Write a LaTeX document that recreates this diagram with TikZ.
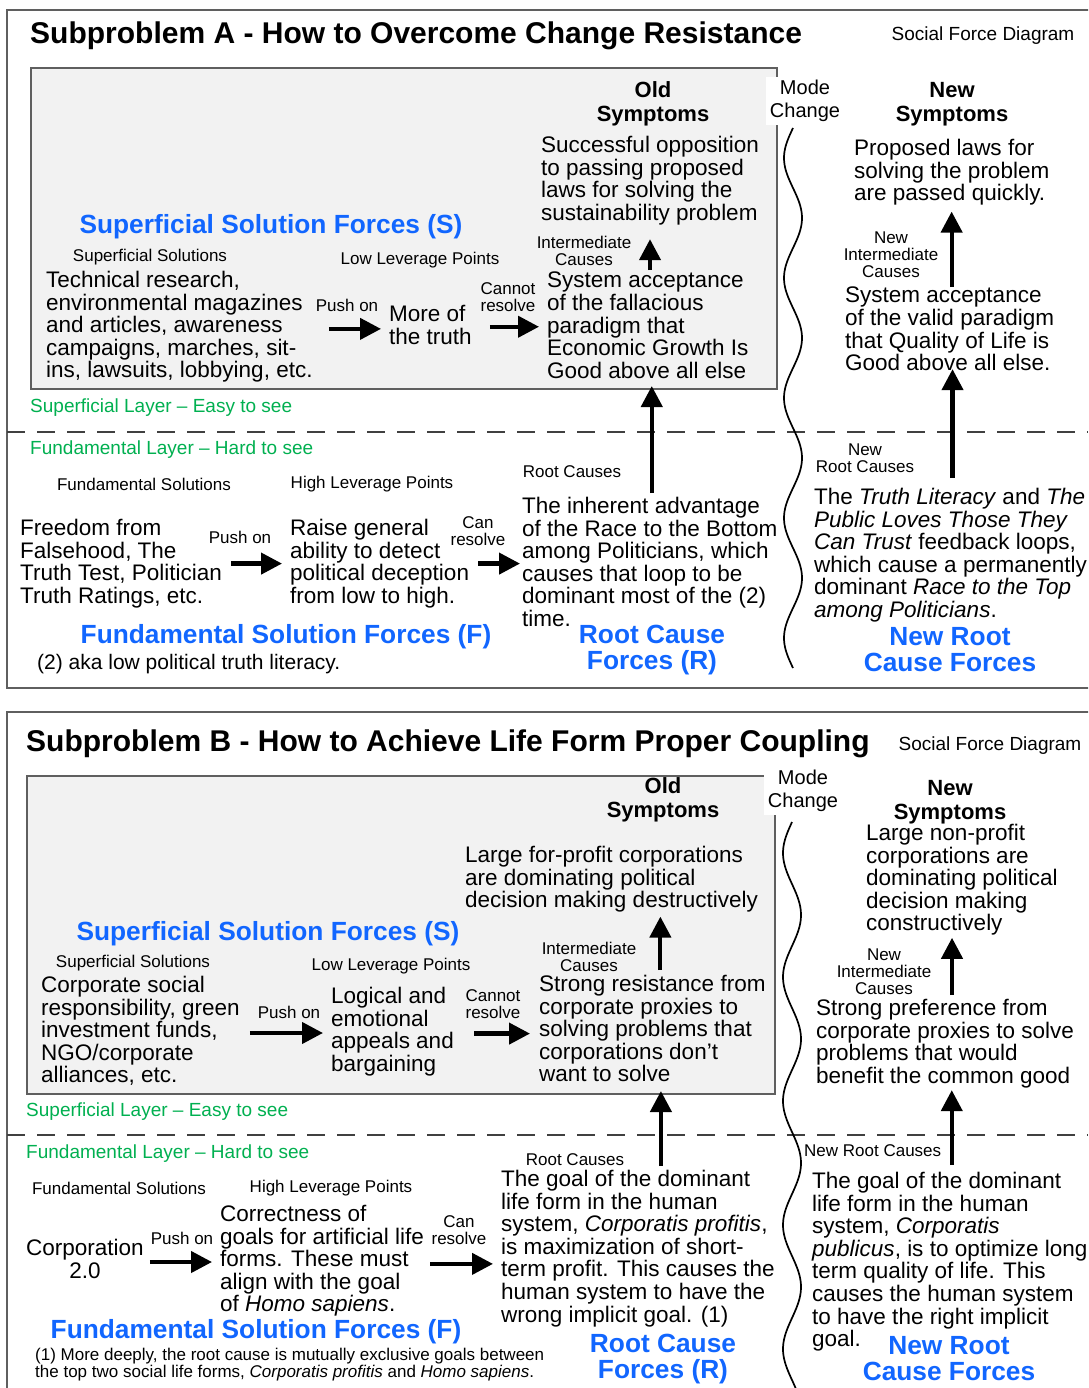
\documentclass[tikz,border=0pt]{standalone}
\usepackage{fontspec}
\setmainfont{Liberation Sans}
\usetikzlibrary{arrows.meta}
\definecolor{fblue}{RGB}{17,102,255}
\definecolor{fgreen}{RGB}{0,176,80}
\definecolor{boxgray}{RGB}{242,242,242}
\definecolor{edgegray}{RGB}{95,95,95}
\tikzset{
  body/.style={font=\fontsize{22.5}{22.6}\selectfont, inner sep=0pt, align=left, anchor=north west},
  bodyc/.style={font=\fontsize{22.5}{22.6}\selectfont, inner sep=0pt, align=center},
  small/.style={font=\fontsize{17}{17}\selectfont, inner sep=0pt, align=center},
  smallw/.style={font=\fontsize{17}{17}\selectfont, inner sep=0pt, anchor=west},
  forcelbl/.style={font=\fontsize{26.3}{26}\selectfont\bfseries, text=fblue, inner sep=0pt, align=center},
  layerlbl/.style={font=\fontsize{19}{19}\selectfont, text=fgreen, inner sep=0pt, anchor=west},
  titlelbl/.style={font=\fontsize{30}{30}\selectfont\bfseries, inner sep=0pt, anchor=west},
  sfdlbl/.style={font=\fontsize{19}{19}\selectfont, inner sep=0pt},
  symlbl/.style={font=\fontsize{22}{24}\selectfont\bfseries, inner sep=0pt, align=center},
  modelbl/.style={font=\fontsize{20}{23}\selectfont, fill=white, inner xsep=4pt, inner ysep=3pt, align=center},
  notelbl/.style={inner sep=0pt, anchor=west, align=left},
  graybox/.style={draw=edgegray, line width=2pt, fill=boxgray, anchor=north west, inner sep=0pt},
  framebox/.style={draw=edgegray, line width=1.8pt},
  dashline/.style={draw=black!75, line width=1.5pt, dash pattern=on 18pt off 12pt},
  bigarrow/.style={-{Triangle[width=21pt,length=21pt]}, line width=4.2pt},
  wavy/.style={line width=1.7pt}
}
\begin{document}
\begin{tikzpicture}[x=1pt,y=-1pt]
\useasboundingbox (0,0) rectangle (1088,1388);
\clip (0,0) rectangle (1088,1388);
\fill[white] (0,0) rectangle (1088,1388);

% ================= Subproblem A =================
\draw[framebox] (7,10) rectangle (1110,688);
\node[graybox, minimum width=746pt, minimum height=321pt] (boxA) at (30,67) {};
\node[titlelbl] (tA) at (30,36) {Subproblem A - How to Overcome Change Resistance};
\node[sfdlbl] (sfdA) at (983,36) {Social Force Diagram};

\node[symlbl] (oldA) at (653,104) {Old\\Symptoms};
\node[modelbl] (modeA) at (805,101) {Mode\\Change};
\node[symlbl] (newA) at (952,104) {New\\Symptoms};

\node[body] (osA) at (541,136) {Successful opposition\\to passing proposed\\laws for solving the\\sustainability problem};
\node[small] (icA) at (584,251) {Intermediate\\Causes};
\node[body] (sysA) at (547,272) {System acceptance\\of the fallacious\\paradigm that\\Economic Growth Is\\Good above all else};
\node[forcelbl] (ssfA) at (271,227) {Superficial Solution Forces (S)};
\node[small] (ssA) at (150,257) {Superficial Solutions};
\node[small] (llA) at (420,260) {Low Leverage Points};
\node[body] (techA) at (46,271) {Technical research,\\environmental magazines\\and articles, awareness\\campaigns, marches, sit-\\ins, lawsuits, lobbying, etc.};
\node[small] (pushA) at (347,305) {Push on};
\node[body] (truthA) at (389,305) {More of\\the truth};
\node[small] (cantA) at (508,297) {Cannot\\resolve};

\node[layerlbl] (slA) at (30,408) {Superficial Layer – Easy to see};
\draw[dashline] (7,432) -- (1088,432);
\node[layerlbl] (flA) at (30,450) {Fundamental Layer – Hard to see};
\node[small] (fsA) at (144,484) {Fundamental Solutions};
\node[small] (hlA) at (372,484) {High Leverage Points};
\node[small] (rcA) at (572,472) {Root Causes};
\node[body] (freeA) at (20,519) {Freedom from\\Falsehood, The\\Truth Test, Politician\\Truth Ratings, etc.};
\node[small] (push2A) at (240,537) {Push on};
\node[body] (raiseA) at (290,519) {Raise general\\ability to detect\\political deception\\from low to high.};
\node[small] (canA) at (478,531) {Can\\resolve};
\node[body] (rootA) at (522,497) {The inherent advantage\\of the Race to the Bottom\\among Politicians, which\\causes that loop to be\\dominant most of the (2)\\time.};
\node[forcelbl] (fsfA) at (286,637) {Fundamental Solution Forces (F)};
\node[forcelbl] (rcfA) at (652,650) {Root Cause\\Forces (R)};
\node[notelbl, font=\fontsize{21}{21}\selectfont] (noteA) at (37,664) {(2) aka low political truth literacy.};

\node[body] (npropA) at (854,139) {Proposed laws for\\solving the problem\\are passed quickly.};
\node[small] (nicA) at (891,255) {New\\Intermediate\\Causes};
\node[body] (nsysA) at (845,287) {System acceptance\\of the valid paradigm\\that Quality of Life is\\Good above all else.};
\node[small] (nrcA) at (865,458) {New\\Root Causes};
\node[body] (nrootA) at (814,488) {The \textit{Truth Literacy} and \textit{The}\\\textit{Public Loves Those They}\\\textit{Can Trust} feedback loops,\\which cause a permanently\\dominant \textit{Race to the Top}\\\textit{among Politicians}.};
\node[forcelbl] (nrcfA) at (950,650) {New Root\\Cause Forces};

% arrows A
\draw[bigarrow, shorten >=8pt] ([xshift=16pt,yshift=-2pt]techA.east) -- ([yshift=-2pt]techA.east -| truthA.west);
\draw[bigarrow, shorten >=8pt] ([xshift=18pt,yshift=-2pt]truthA.east) -- ([yshift=-2pt]truthA.east -| sysA.west);
\draw[bigarrow, shorten >=14pt] ([yshift=2pt]sysA.north -| osA.south) -- (osA.south);
\draw[bigarrow] ([xshift=2pt,yshift=4pt]rootA.north) -- ([xshift=2pt,yshift=4pt]rootA.north |- boxA.south);
\draw[bigarrow, shorten >=8pt] ([xshift=9pt]freeA.east) -- (freeA.east -| raiseA.west);
\draw[bigarrow, shorten >=2pt] ([xshift=9pt]raiseA.east) -- (raiseA.east -| rootA.west);
\draw[bigarrow, shorten >=6pt] ([xshift=2pt]nsysA.north) -- ([xshift=2pt]nsysA.north |- npropA.south);
\draw[bigarrow, shorten >=8pt] ([xshift=2pt,yshift=10pt]nrootA.north) -- ([xshift=2pt,yshift=10pt]nrootA.north |- nsysA.south);

% mode-change wave A
\draw[wavy] plot[domain=0:540, samples=240, smooth] ({793-9*sin(\x*3)}, {128+\x});

% ================= Subproblem B =================
\draw[framebox] (7,712) rectangle (1110,1420);
\node[graybox, minimum width=748pt, minimum height=318pt] (boxB) at (26,775) {};
\node[titlelbl] (tB) at (26,744) {Subproblem B - How to Achieve Life Form Proper Coupling};
\node[sfdlbl] (sfdB) at (990,746) {Social Force Diagram};

\node[symlbl] (oldB) at (663,800) {Old\\Symptoms};
\node[modelbl] (modeB) at (803,791) {Mode\\Change};
\node[symlbl] (newB) at (950,802) {New\\Symptoms};

\node[body] (osB) at (465,846) {Large for-profit corporations\\are dominating political\\decision making destructively};
\node[forcelbl] (ssfB) at (268,934) {Superficial Solution Forces (S)};
\node[small] (icB) at (589,957) {Intermediate\\Causes};
\node[small] (ssB) at (133,963) {Superficial Solutions};
\node[small] (llB) at (391,966) {Low Leverage Points};
\node[body] (corpB) at (41,976) {Corporate social\\responsibility, green\\investment funds,\\NGO/corporate\\alliances, etc.};
\node[small] (pushB) at (289,1012) {Push on};
\node[body] (logicB) at (331,987) {Logical and\\emotional\\appeals and\\bargaining};
\node[small] (cantB) at (493,1004) {Cannot\\resolve};
\node[body] (sysB) at (539,975) {Strong resistance from\\corporate proxies to\\solving problems that\\corporations don’t\\want to solve};

\node[layerlbl] (slB) at (26,1112) {Superficial Layer – Easy to see};
\draw[dashline] (7,1135) -- (1088,1135);
\node[layerlbl] (flB) at (26,1154) {Fundamental Layer – Hard to see};
\node[small] (fsB) at (119,1188) {Fundamental Solutions};
\node[small] (hlB) at (331,1188) {High Leverage Points};
\node[small] (rcB) at (575,1160) {Root Causes};
\node[bodyc] (corp2B) at (85,1259) {Corporation\\2.0};
\node[small] (push3B) at (182,1238) {Push on};
\node[body] (goalsB) at (220,1205) {Correctness of\\goals for artificial life\\forms. These must\\align with the goal\\of \textit{Homo sapiens}.};
\node[small] (can2B) at (459,1230) {Can\\resolve};
\node[body] (rootB) at (501,1170) {The goal of the dominant\\life form in the human\\system, \textit{Corporatis profitis},\\is maximization of short-\\term profit. This causes the\\human system to have the\\wrong implicit goal. (1)};
\node[forcelbl] (fsfB) at (256,1332) {Fundamental Solution Forces (F)};
\node[notelbl, font=\fontsize{17}{17}\selectfont] (noteB) at (35,1365) {(1) More deeply, the root cause is mutually exclusive goals between\\the top two social life forms, \textit{Corporatis profitis} and \textit{Homo sapiens}.};
\node[forcelbl] (rcfB) at (663,1359) {Root Cause\\Forces (R)};

\node[body] (npB) at (866,824) {Large non-profit\\corporations are\\dominating political\\decision making\\constructively};
\node[small] (nicB) at (884,972) {New\\Intermediate\\Causes};
\node[body] (nsysB) at (816,999) {Strong preference from\\corporate proxies to solve\\problems that would\\benefit the common good};
\node[smallw] (nrcB) at (804,1151) {New Root Causes};
\node[body] (nrootB) at (812,1172) {The goal of the dominant\\life form in the human\\system, \textit{Corporatis}\\\textit{publicus}, is to optimize long\\term quality of life. This\\causes the human system\\to have the right implicit\\goal.};
\node[forcelbl] (nrcfB) at (949,1359) {New Root\\Cause Forces};

% arrows B
\draw[bigarrow, shorten >=8pt] ([xshift=10pt,yshift=-2pt]corpB.east) -- ([yshift=-2pt]corpB.east -| logicB.west);
\draw[bigarrow, shorten >=9pt] ([xshift=20pt,yshift=-2pt]logicB.east) -- ([yshift=-2pt]logicB.east -| sysB.west);
\draw[bigarrow, shorten >=9pt] ([xshift=8pt,yshift=5pt]sysB.north) -- ([xshift=8pt,yshift=5pt]sysB.north |- osB.south);
\draw[bigarrow] ([xshift=23pt,yshift=4pt]rootB.north) -- ([xshift=23pt,yshift=4pt]rootB.north |- boxB.south);
\draw[bigarrow, shorten >=8pt] ([xshift=6pt,yshift=-3pt]corp2B.east) -- ([yshift=-3pt]corp2B.east -| goalsB.west);
\draw[bigarrow, shorten >=8pt] ([xshift=6pt,yshift=-3pt]goalsB.east) -- ([yshift=-3pt]goalsB.east -| rootB.west);
\draw[bigarrow, shorten >=6pt] ([xshift=7pt,yshift=4pt]nsysB.north) -- ([xshift=7pt,yshift=4pt]nsysB.north |- npB.south);
\draw[bigarrow, shorten >=9pt] ([xshift=2pt,yshift=7pt]nrootB.north) -- ([xshift=2pt,yshift=7pt]nrootB.north |- nsysB.south);

% mode-change wave B
\draw[wavy] plot[domain=0:578, samples=240, smooth] ({792-9*sin(\x*2.9032)}, {822+\x});
\end{tikzpicture}
\end{document}
